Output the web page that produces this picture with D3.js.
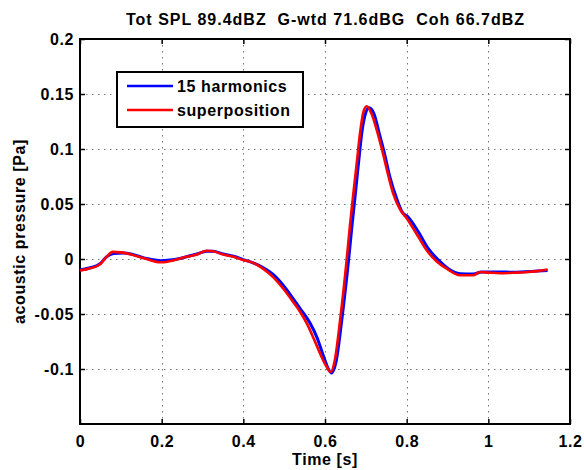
<!DOCTYPE html>
<html>
<head>
<meta charset="utf-8">
<script src="https://cdn.jsdelivr.net/npm/d3@7"></script>
<style>
  body { margin: 0; background: #fff; }
  svg text { font-family: "Liberation Sans", Arial, sans-serif; font-weight: bold; fill: #000; }
</style>
</head>
<body>
<svg id="chart" width="584" height="470"></svg>
<script>
// Data
const titleText = "Tot SPL 89.4dBZ  G-wtd 71.6dBG  Coh 66.7dBZ";
const seriesNames = ["15 harmonics", "superposition"];
const xTicks = [0, 0.2, 0.4, 0.6, 0.8, 1, 1.2];
const yTicks = [-0.1, -0.05, 0, 0.05, 0.1, 0.15, 0.2];

const tBlue = [0, 0.025, 0.05, 0.065, 0.082, 0.106, 0.131, 0.163, 0.198, 0.232, 0.261, 0.286, 0.31, 0.326,
  0.351, 0.376, 0.4, 0.424, 0.449, 0.473, 0.498, 0.522, 0.539, 0.563, 0.58, 0.596, 0.608, 0.616, 0.627,
  0.641, 0.658, 0.666, 0.674, 0.682, 0.691, 0.699, 0.708, 0.72, 0.733, 0.745, 0.759, 0.777, 0.789, 0.804,
  0.829, 0.853, 0.878, 0.902, 0.931, 0.963, 0.984, 1.029, 1.06, 1.09, 1.12, 1.145];
const vBlue = [-0.010, -0.008, -0.004, 0.002, 0.005, 0.0055, 0.004, 0.0005, -0.0015, -0.0005, 0.002, 0.0045, 0.007, 0.007,
  0.0045, 0.0025, -0.0005, -0.0035, -0.008, -0.014, -0.024, -0.036, -0.045, -0.058, -0.071, -0.088, -0.0997, -0.1036, -0.0936,
  -0.0557, 0.0, 0.03, 0.058, 0.087, 0.117, 0.132, 0.1375, 0.132, 0.114, 0.097, 0.0745, 0.0534, 0.0427, 0.038,
  0.0245, 0.0094, -0.001, -0.0088, -0.0133, -0.0136, -0.0118, -0.0118, -0.012, -0.0115, -0.011, -0.0105];

const tRed = [0, 0.025, 0.05, 0.065, 0.08, 0.1, 0.131, 0.163, 0.198, 0.232, 0.261, 0.286, 0.31, 0.326,
  0.351, 0.376, 0.4, 0.424, 0.449, 0.473, 0.498, 0.522, 0.539, 0.556, 0.572, 0.588, 0.604, 0.614, 0.624,
  0.637, 0.653, 0.661, 0.669, 0.678, 0.686, 0.694, 0.702, 0.714, 0.727, 0.74, 0.756, 0.767, 0.784, 0.8,
  0.824, 0.849, 0.873, 0.898, 0.931, 0.963, 0.98, 1.0, 1.029, 1.06, 1.09, 1.12, 1.145];
const vRed = [-0.0105, -0.0085, -0.0045, 0.002, 0.0065, 0.006, 0.0035, 0.0, -0.003, -0.001, 0.002, 0.004, 0.0075, 0.007,
  0.004, 0.002, -0.001, -0.0035, -0.009, -0.0165, -0.027, -0.039, -0.048, -0.059, -0.072, -0.086, -0.098, -0.1027, -0.092,
  -0.0557, -0.001, 0.03, 0.058, 0.088, 0.115, 0.1336, 0.1388, 0.132, 0.117, 0.099, 0.0745, 0.0595, 0.045, 0.037,
  0.023, 0.0079, -0.002, -0.0088, -0.0148, -0.0148, -0.0118, -0.0124, -0.013, -0.0125, -0.012, -0.011, -0.0095];

const colors = ["#0000ff", "#ff0000"];

// Plot box
const plotL = 80, plotR = 570, plotT = 39, plotB = 424;

const svg = d3.select("#chart");

const x = d3.scaleLinear().domain([0, 1.2]).range([plotL, plotR]);
const y = d3.scaleLinear().domain([-0.15, 0.2]).range([plotB, plotT]);

const fmt = d => String(+d.toFixed(2));

// Grid (dotted)
const grid = svg.append("g").attr("stroke", "#777").attr("stroke-width", 1).attr("stroke-dasharray", "1.5,4.5");
grid.selectAll("line.gx")
  .data(xTicks.filter(d => d > 0 && d < 1.2))
  .join("line")
  .attr("x1", d => Math.round(x(d)) + 0.5).attr("x2", d => Math.round(x(d)) + 0.5)
  .attr("y1", plotT).attr("y2", plotB);
grid.selectAll("line.gy")
  .data(yTicks.filter(d => d < 0.2))
  .join("line")
  .attr("y1", d => Math.round(y(d)) + 0.5).attr("y2", d => Math.round(y(d)) + 0.5)
  .attr("x1", plotL).attr("x2", plotR);

// Axes with inward ticks (bottom + left), mirrored on top + right
const xAxis = d3.axisBottom(x).tickValues(xTicks).tickSize(-5).tickPadding(14).tickFormat(fmt);
const yAxis = d3.axisLeft(y).tickValues(yTicks).tickSize(-5).tickPadding(6).tickFormat(fmt);

const gx = svg.append("g").attr("transform", `translate(0,${plotB})`).call(xAxis);
const gy = svg.append("g").attr("transform", `translate(${plotL},0)`).call(yAxis);
svg.append("g").attr("transform", `translate(0,${plotT})`)
  .call(d3.axisTop(x).tickValues(xTicks).tickSize(-5).tickFormat(""));
svg.append("g").attr("transform", `translate(${plotR},0)`)
  .call(d3.axisRight(y).tickValues(yTicks).tickSize(-5).tickFormat(""));

svg.selectAll(".domain").remove();
svg.selectAll(".tick line").attr("stroke", "#000").attr("stroke-width", 1.5);
gx.selectAll("text").attr("font-size", 16).attr("letter-spacing", 0.6).attr("dy", 0);
gx.selectAll(".tick text").attr("y", 23);
gy.selectAll("text").attr("font-size", 16).attr("letter-spacing", 0.6).attr("dy", "0.36em");

// Box
svg.append("rect")
  .attr("x", plotL).attr("y", plotT)
  .attr("width", plotR - plotL).attr("height", plotB - plotT)
  .attr("fill", "none").attr("stroke", "#000").attr("stroke-width", 2);

// Lines
const line = d3.line().x(d => x(d[0])).y(d => y(d[1])).curve(d3.curveMonotoneX);
const series = [
  { name: seriesNames[0], pts: tBlue.map((t, i) => [t, vBlue[i]]), width: 3 },
  { name: seriesNames[1], pts: tRed.map((t, i) => [t, vRed[i]]), width: 2.6 }
];
svg.append("g").selectAll("path")
  .data(series)
  .join("path")
  .attr("d", d => line(d.pts))
  .attr("fill", "none")
  .attr("stroke", (d, i) => colors[i])
  .attr("stroke-width", d => d.width)
  .attr("stroke-linejoin", "round");

// Title and labels
svg.append("text")
  .attr("x", (plotL + plotR) / 2).attr("y", 25)
  .attr("text-anchor", "middle").attr("font-size", 16)
  .style("white-space", "pre")
  .attr("textLength", 398).attr("lengthAdjust", "spacing")
  .text(titleText);

svg.append("text")
  .attr("x", (plotL + plotR) / 2).attr("y", 465)
  .attr("text-anchor", "middle").attr("font-size", 16).attr("letter-spacing", 0.6)
  .text("Time [s]");

svg.append("text")
  .attr("transform", `translate(25,${(plotT + plotB) / 2}) rotate(-90)`)
  .attr("text-anchor", "middle").attr("font-size", 16).attr("letter-spacing", 0.6)
  .text("acoustic pressure [Pa]");

// Legend
const legend = svg.append("g");
legend.append("rect")
  .attr("x", 117).attr("y", 72).attr("width", 186).attr("height", 55)
  .attr("fill", "#fff").attr("stroke", "#000").attr("stroke-width", 2);
const rows = legend.selectAll("g.row")
  .data(series)
  .join("g")
  .attr("transform", (d, i) => `translate(0,${86 + i * 24})`);
rows.append("line")
  .attr("x1", 127).attr("x2", 173)
  .attr("stroke", (d, i) => colors[i]).attr("stroke-width", 2.5);
rows.append("text")
  .attr("x", 177).attr("y", 6)
  .attr("font-size", 16).attr("letter-spacing", 0.6)
  .text(d => d.name);
</script>
</body>
</html>
